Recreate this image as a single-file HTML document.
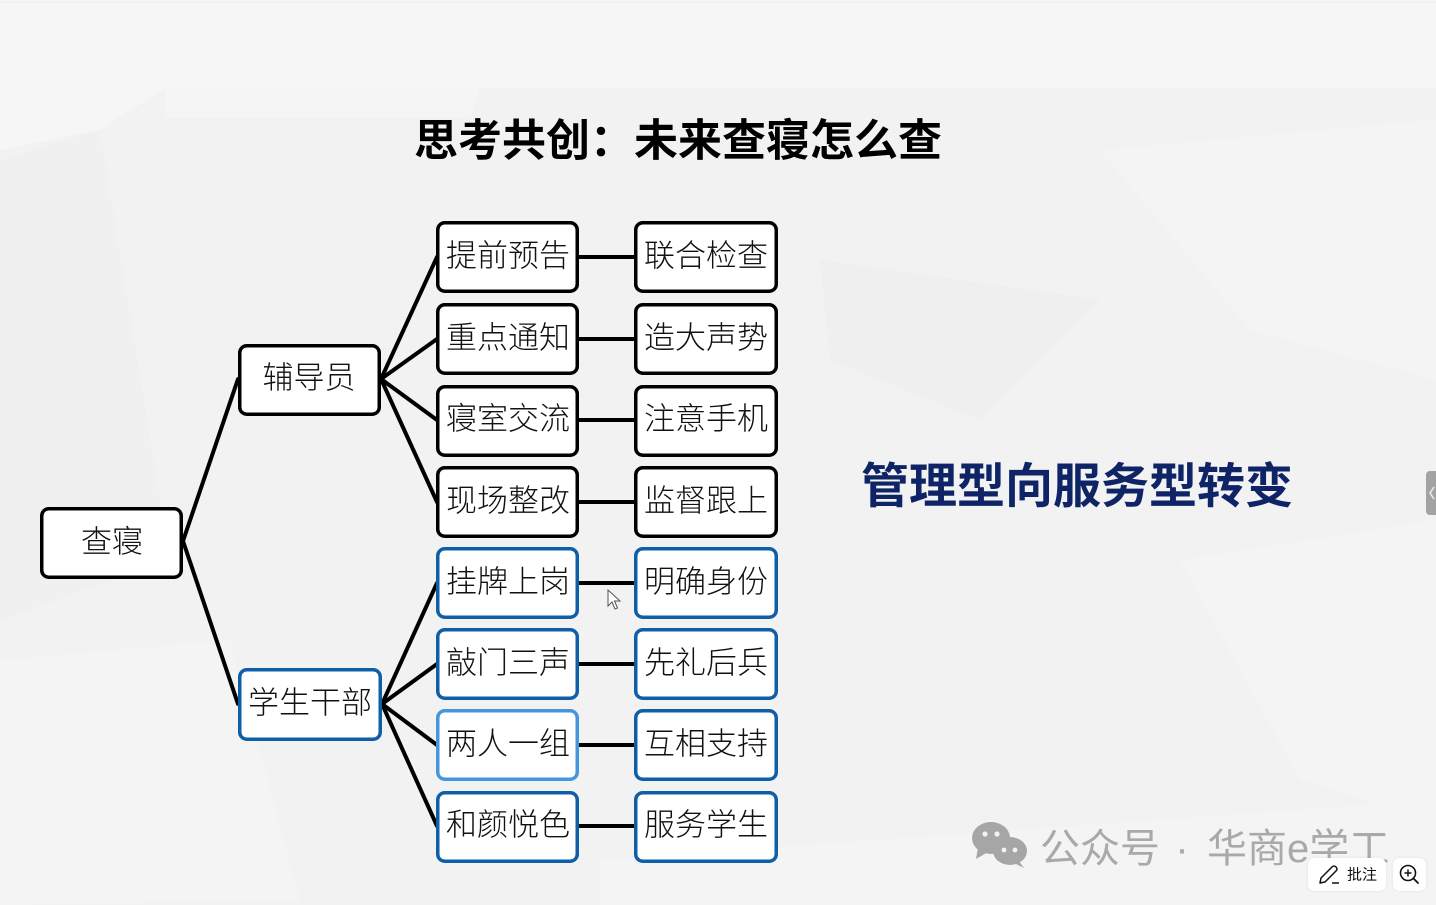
<!DOCTYPE html>
<html>
<head>
<meta charset="utf-8">
<style>
html,body{margin:0;padding:0;}
body{width:1436px;height:905px;overflow:hidden;background:#f3f3f4;position:relative;font-family:"Liberation Sans","Noto Sans CJK SC",sans-serif;}
svg{position:absolute;left:0;top:0;}
.btn{position:absolute;background:#fff;border-radius:7px;box-shadow:0 0 3px rgba(0,0,0,0.08);}
</style>
</head>
<body>
<svg width="1436" height="905" viewBox="0 0 1436 905" xmlns="http://www.w3.org/2000/svg">
  <!-- background -->
  <rect x="0" y="0" width="1436" height="905" fill="#f2f2f3"/>
  <rect x="0" y="0" width="1436" height="88" fill="#f6f6f7"/>
  <line x1="0" y1="2" x2="1436" y2="2" stroke="#ebebec" stroke-width="1"/>
  <polygon points="0,88 165,88 100,130 0,150" fill="#f6f6f7"/>
  <polygon points="165,88 480,88 470,118 165,118" fill="#f5f5f6"/>
  <polygon points="0,160 100,130 170,560 0,620" fill="#f0f0f1"/>
  <polygon points="820,260 1100,300 980,420 830,360" fill="#efeff0"/>
  <polygon points="1100,150 1436,120 1436,380 1250,330" fill="#f4f4f5"/>
  <polygon points="1180,560 1436,520 1436,820 1300,780" fill="#f4f4f5"/>
  <polygon points="0,660 230,640 300,900 0,905" fill="#f4f4f5"/>
  <polygon points="600,860 1436,800 1436,905 600,905" fill="#f4f4f5"/>

  <!-- title -->
  <text x="678" y="141" text-anchor="middle" dominant-baseline="central" font-family="'Liberation Sans','Noto Sans CJK SC',sans-serif" font-weight="bold" font-size="44" fill="#000">思考共创：未来查寝怎么查</text>

  <!-- right text -->
  <text x="1077" y="487" text-anchor="middle" dominant-baseline="central" font-family="'Liberation Sans','Noto Sans CJK SC',sans-serif" font-weight="bold" font-size="48" fill="#0e2466">管理型向服务型转变</text>

  <!-- connectors -->
  <g stroke="#000" stroke-width="4" stroke-linecap="round" fill="none">
    <line x1="183" y1="541" x2="238" y2="379"/>
    <line x1="183" y1="541" x2="238" y2="704"/>
    <line x1="381" y1="379" x2="437" y2="257"/>
    <line x1="381" y1="379" x2="437" y2="339"/>
    <line x1="381" y1="379" x2="437" y2="420"/>
    <line x1="381" y1="379" x2="437" y2="502"/>
    <line x1="382" y1="704" x2="437" y2="583"/>
    <line x1="382" y1="704" x2="437" y2="664"/>
    <line x1="382" y1="704" x2="437" y2="745"/>
    <line x1="382" y1="704" x2="437" y2="826"/>
    <line x1="579" y1="257" x2="634" y2="257"/>
    <line x1="579" y1="339" x2="634" y2="339"/>
    <line x1="579" y1="420" x2="634" y2="420"/>
    <line x1="579" y1="502" x2="634" y2="502"/>
    <line x1="579" y1="583" x2="634" y2="583"/>
    <line x1="579" y1="664" x2="634" y2="664"/>
    <line x1="579" y1="745" x2="634" y2="745"/>
    <line x1="579" y1="826" x2="634" y2="826"/>
  </g>

  <!-- boxes -->
  <g fill="#fff" stroke-width="3.5">
    <rect x="41.75" y="508.75" width="139.5" height="68.5" rx="7" stroke="#000"/>
    <rect x="239.75" y="345.75" width="139.5" height="68.5" rx="7" stroke="#000"/>
    <rect x="239.75" y="669.75" width="140.5" height="69.5" rx="7" stroke="#0f5ea8"/>

    <rect x="437.75" y="222.75" width="139.5" height="68.5" rx="7" stroke="#000"/>
    <rect x="437.75" y="304.75" width="139.5" height="68.5" rx="7" stroke="#000"/>
    <rect x="437.75" y="386.75" width="139.5" height="68.5" rx="7" stroke="#000"/>
    <rect x="437.75" y="467.75" width="139.5" height="68.5" rx="7" stroke="#000"/>
    <rect x="437.75" y="548.75" width="139.5" height="68.5" rx="7" stroke="#0f5ea8"/>
    <rect x="437.75" y="629.75" width="139.5" height="68.5" rx="7" stroke="#0f5ea8"/>
    <rect x="437.75" y="710.75" width="139.5" height="68.5" rx="7" stroke="#4596dc"/>
    <rect x="437.75" y="792.75" width="139.5" height="68.5" rx="7" stroke="#0f5ea8"/>

    <rect x="635.75" y="222.75" width="140.5" height="68.5" rx="7" stroke="#000"/>
    <rect x="635.75" y="304.75" width="140.5" height="68.5" rx="7" stroke="#000"/>
    <rect x="635.75" y="386.75" width="140.5" height="68.5" rx="7" stroke="#000"/>
    <rect x="635.75" y="467.75" width="140.5" height="68.5" rx="7" stroke="#000"/>
    <rect x="635.75" y="548.75" width="140.5" height="68.5" rx="7" stroke="#0f5ea8"/>
    <rect x="635.75" y="629.75" width="140.5" height="68.5" rx="7" stroke="#0f5ea8"/>
    <rect x="635.75" y="710.75" width="140.5" height="68.5" rx="7" stroke="#0f5ea8"/>
    <rect x="635.75" y="792.75" width="140.5" height="68.5" rx="7" stroke="#0f5ea8"/>
  </g>

  <!-- box labels -->
  <g font-family="'Liberation Sans','Noto Sans CJK SC',sans-serif" font-size="31" fill="#111" text-anchor="middle" dominant-baseline="central" font-weight="300">
    <text x="112" y="542">查寝</text>
    <text x="309" y="378">辅导员</text>
    <text x="310" y="703">学生干部</text>

    <text x="508" y="256">提前预告</text>
    <text x="508" y="338">重点通知</text>
    <text x="508" y="419">寝室交流</text>
    <text x="508" y="501">现场整改</text>
    <text x="508" y="582">挂牌上岗</text>
    <text x="508" y="663">敲门三声</text>
    <text x="508" y="744">两人一组</text>
    <text x="508" y="825">和颜悦色</text>

    <text x="706" y="256">联合检查</text>
    <text x="706" y="338">造大声势</text>
    <text x="706" y="419">注意手机</text>
    <text x="706" y="501">监督跟上</text>
    <text x="706" y="582">明确身份</text>
    <text x="706" y="663">先礼后兵</text>
    <text x="706" y="744">互相支持</text>
    <text x="706" y="825">服务学生</text>
  </g>

  <!-- cursor -->
  <path d="M608,590 L608,606 L612,602 L615,609 L617.5,608 L614.5,601 L620,601 Z" fill="#fff" stroke="#555" stroke-width="1"/>

  <!-- wechat watermark -->
  <g fill="#a6a6a6">
    <ellipse cx="991" cy="838" rx="19" ry="16"/>
    <polygon points="978,848 976,859 988,852"/>
    <ellipse cx="1010" cy="851" rx="17" ry="14"/>
    <polygon points="1018,860 1024,868 1012,862"/>
  </g>
  <g fill="#f2f2f3">
    <circle cx="985" cy="834" r="2.6"/>
    <circle cx="997" cy="834" r="2.6"/>
    <circle cx="1004" cy="850" r="2.4"/>
    <circle cx="1015" cy="850" r="2.4"/>
  </g>
  <g font-family="'Liberation Sans','Noto Sans CJK SC',sans-serif" font-size="40" fill="#a9a9a9" dominant-baseline="central">
    <text x="1040" y="849">公众号</text>
    <text x="1182" y="849" text-anchor="middle">·</text>
    <text x="1207" y="849">华商e学工</text>
  </g>

  <!-- right edge tab -->
  <rect x="1426" y="471" width="14" height="44" rx="4" fill="#a3a3a3"/>
  <path d="M1434,487 L1430,493 L1434,499" stroke="#eee" stroke-width="1.5" fill="none"/>
</svg>

<div class="btn" style="left:1308px;top:858px;width:78px;height:33px;">
  <svg width="78" height="33" viewBox="0 0 78 33" style="position:absolute;left:0;top:0;">
    <path d="M12,25 L13,20 L24,9 Q26,7 28,9 Q30,11 28,13 L17,24 Z" fill="none" stroke="#111" stroke-width="1.5" stroke-linejoin="round"/>
    <line x1="24" y1="25" x2="31" y2="25" stroke="#111" stroke-width="1.5"/>
    <text x="39" y="17" dominant-baseline="central" font-family="'Liberation Sans','Noto Sans CJK SC',sans-serif" font-size="15" fill="#111">批注</text>
  </svg>
</div>
<div class="btn" style="left:1393px;top:858px;width:33px;height:33px;">
  <svg width="33" height="33" viewBox="0 0 33 33" style="position:absolute;left:0;top:0;">
    <circle cx="15" cy="15" r="7.5" fill="none" stroke="#111" stroke-width="1.6"/>
    <line x1="20.5" y1="20.5" x2="25" y2="25" stroke="#111" stroke-width="1.8" stroke-linecap="round"/>
    <line x1="11.5" y1="15" x2="18.5" y2="15" stroke="#111" stroke-width="1.5"/>
    <line x1="15" y1="11.5" x2="15" y2="18.5" stroke="#111" stroke-width="1.5"/>
  </svg>
</div>
</body>
</html>
